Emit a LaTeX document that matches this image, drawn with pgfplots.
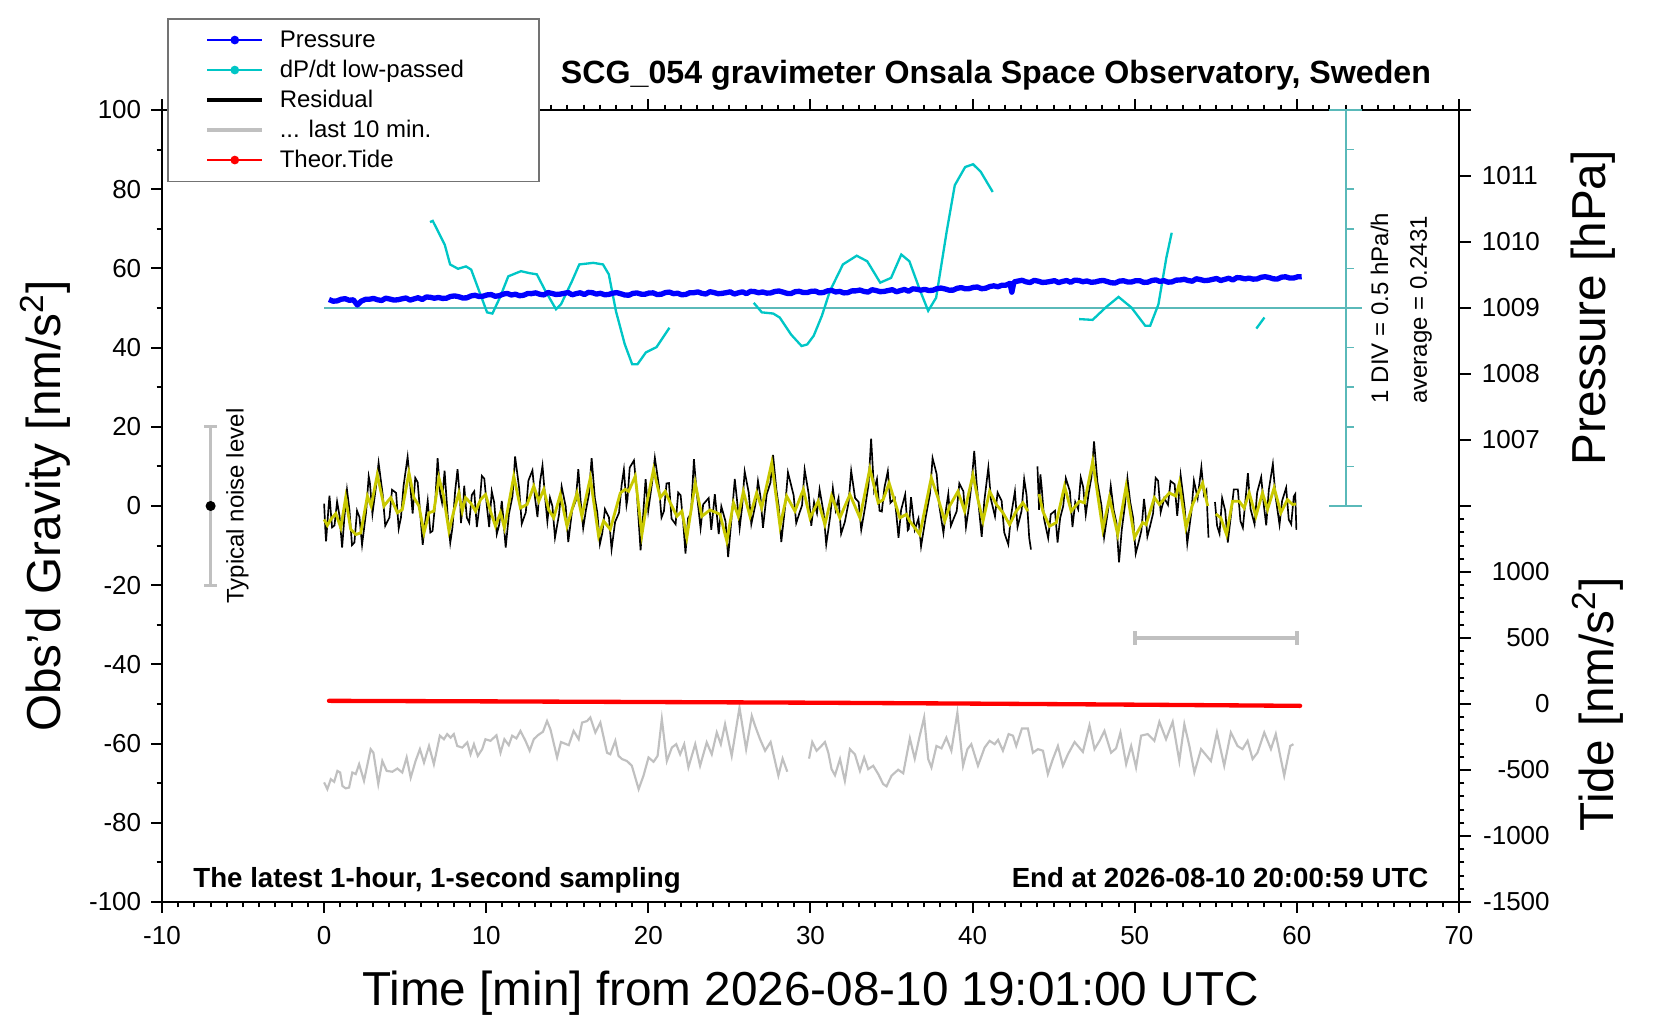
\documentclass[border=0pt]{standalone}
\usepackage{pgfplots}
\pgfplotsset{compat=1.18}
\usepackage{fontspec}
\setmainfont{Liberation Sans}

\definecolor{pblue}{RGB}{0,0,255}
\definecolor{dcyan}{RGB}{0,198,198}
\definecolor{acyan}{RGB}{90,185,185}
\definecolor{ylw}{RGB}{200,200,0}
\definecolor{lgray}{RGB}{192,192,192}

\newcommand\tickfont{\fontsize{7.8bp}{9bp}\selectfont}
\newcommand\legfont{\fontsize{7.2bp}{8.6bp}\selectfont}
\newcommand\labfont{\fontsize{14.3bp}{17bp}\selectfont}

\begin{document}
\begin{tikzpicture}
% ---------------- main gravity axis ----------------
\begin{axis}[
  at={(48.6bp,35.4bp)}, anchor=south west,
  scale only axis, width=389.1bp, height=237.6bp,
  xmin=-10, xmax=70, ymin=-100, ymax=100,
  clip=false,
  axis line style={line width=0.75pt},
  tick align=outside,
  xtick={-10,0,...,70}, xticklabels={-10,0,10,20,30,40,50,60,70},
  minor x tick num=9,
  ytick={-100,-80,...,100},
  yticklabels={-100,-80,-60,-40,-20,0,20,40,60,80,100},
  minor y tick num=1,
  xtick pos=both, xticklabel pos=bottom, ytick pos=left,
  major tick length=3.2bp, minor tick length=1.6bp,
  every tick/.style={black, line width=0.6pt},
  xticklabel style={font=\tickfont, inner sep=0pt, anchor=north, yshift=-3.8bp},
  yticklabel style={font=\tickfont, inner sep=0pt, anchor=east, xshift=-2.85bp},
  xlabel={Time [min] from 2026-08-10 19:01:00 UTC},
  ylabel={Obs’d Gravity [nm/s\textsuperscript{2}]},
  label style={font=\labfont, inner sep=0pt},
  xlabel style={at={(rel axis cs:0.5,-0.131)}, anchor=base},
  ylabel style={at={(rel axis cs:-0.078,0.5)}, anchor=base},
  legend image code/.code={\draw[mark repeat=2,mark phase=2,#1] plot coordinates {(0bp,0bp) (8.25bp,0bp) (16.5bp,0bp)};},
  legend cell align=left,
  legend style={at={(rel axis cs:0.0041,1.1163)}, anchor=north west,
    draw=black!55, line width=0.5pt, fill=white, font=\legfont,
    inner xsep=11.1bp, inner ysep=2.6bp, row sep=1.4bp, column sep=4.6bp,
    nodes={inner sep=0pt, text height=6bp, text depth=1.6bp}},
]
\addlegendimage{pblue, line width=0.4pt, mark=*, mark size=1.1pt}
\addlegendentry{Pressure}
\addlegendimage{dcyan, line width=0.4pt, mark=*, mark size=1.1pt}
\addlegendentry{dP/dt low-passed\hspace*{11.5bp}}
\addlegendimage{black, line width=1pt}
\addlegendentry{Residual}
\addlegendimage{lgray, line width=1.3pt}
\addlegendentry{... last 10 min.}
\addlegendimage{red, line width=0.4pt, mark=*, mark size=1.1pt}
\addlegendentry{Theor.Tide}

% dP/dt axis decorations
\draw[acyan, line width=0.6pt] (axis cs:0,50) -- (axis cs:64,50);
\draw[acyan, line width=0.6pt] (axis cs:63,0) -- (axis cs:63,100);
\draw[acyan, line width=0.6pt] (axis cs:62,0) -- (axis cs:64,0);
\draw[acyan, line width=0.6pt] (axis cs:62,100) -- (axis cs:64,100);
\pgfplotsinvokeforeach{10,20,30,40,60,70,80,90}{\draw[acyan, line width=0.5pt] (axis cs:63,#1) -- (axis cs:63.5,#1);}

% dP/dt low-passed
\addplot[dcyan, line width=0.7pt, forget plot] coordinates {(6.53,71.7)(6.7,72.0)(7.44,66)(7.77,61)(8.26,59.9)(8.75,60.5)(9.07,59.7)(9.56,54.3)(10.05,48.9)(10.38,48.6)(10.84,52.6)(11.36,58)(12.14,59.3)(12.67,58.8)(13.12,58.5)(13.65,54.3)(14.3,49.7)(14.62,51)(15.28,56.7)(15.74,61)(16.6,61.4)(17.2,61)(17.56,58.5)(18.0,49.2)(18.54,40.9)(19.0,35.8)(19.33,35.8)(19.85,38.8)(20.5,40.1)(21.3,45)};
\addplot[dcyan, line width=0.7pt, forget plot] coordinates {(26.5,51.3)(27.0,48.9)(27.7,48.6)(28.1,47.6)(28.8,43.3)(29.45,40.4)(29.8,40.8)(30.2,43)(30.7,48)(31.2,54.3)(32.0,61)(32.85,63.2)(33.5,61.8)(34.3,56.4)(34.97,57.6)(35.6,63.5)(36.1,61.8)(36.77,54.3)(37.26,49.3)(37.75,52.6)(38.4,69.3)(38.9,81)(39.54,85.6)(40.03,86.3)(40.5,84.4)(41.24,79.3)};
\addplot[dcyan, line width=0.7pt, forget plot] coordinates {(46.57,47.2)(47.4,47)(48.2,50.1)(49.0,52.8)(49.8,50.1)(50.65,45.5)(50.95,45.5)(51.46,50.9)(51.95,62.7)(52.28,69)};
\addplot[dcyan, line width=0.7pt, forget plot] coordinates {(57.5,44.8)(58.0,47.6)};

% Residual (black)
\addplot[black, line width=0.5pt, forget plot] coordinates {(0.0,0.6)(0.08,-6.4)(0.12,-8.9)(0.28,0.1)(0.33,2.6)(0.49,-5.4)(0.64,-4.9)(0.8,1.1)(0.95,-2.5)(1.11,-10.5)(1.25,-2.9)(1.41,4.1)(1.56,-0.9)(1.72,-9.9)(1.87,-9.2)(2.03,-1.2)(2.18,-2.8)(2.34,-9.8)(2.59,-1.5)(2.75,7.5)(2.82,6)(2.98,-2)(3.2,4.9)(3.36,10.9)(3.61,3)(3.77,-5)(4.03,-2.9)(4.19,4.1)(4.44,3.3)(4.6,-5.7)(4.74,-2.9)(4.9,5.1)(5.15,12.4)(5.31,5.4)(5.46,-1.9)(5.62,7.1)(5.77,6)(5.93,-2)(6.08,-9.8)(6.24,-3.8)(6.39,1.3)(6.55,-6.7)(6.69,-6.3)(6.85,0.7)(7.0,12.1)(7.16,3.1)(7.27,0.9)(7.43,8.9)(7.62,-2.3)(7.78,-9.3)(7.92,-5.3)(8.08,3.7)(8.23,9.3)(8.39,1.3)(8.44,-4.3)(8.6,1.7)(8.64,5.1)(8.8,-2.9)(8.95,-4.2)(9.11,2.8)(9.26,3.7)(9.42,-5.3)(9.57,-0.4)(9.73,7.6)(9.88,6.9)(10.04,-0.1)(10.18,-5.3)(10.34,3.7)(10.49,0.9)(10.65,-7.1)(10.8,-4.7)(10.96,1.3)(11.04,-2.5)(11.2,-10.5)(11.4,-2)(11.62,2.5)(11.78,12.5)(12.03,4.5)(12.19,-4.5)(12.44,-1.6)(12.6,6.4)(12.85,9.0)(13.01,2.0)(13.16,-2.8)(13.32,6.2)(13.47,10.2)(13.63,2.2)(13.77,-3.9)(13.93,2.1)(14.08,0)(14.24,-8.0)(14.49,-2.1)(14.65,4.9)(14.9,-0.1)(15.06,-9.1)(15.3,-1)(15.52,1.3)(15.68,9.3)(15.82,1.4)(15.98,-5.6)(16.15,-1)(16.34,3.1)(16.5,12.1)(16.7,2)(16.85,-1.6)(17.01,-9.6)(17.16,-6.8)(17.32,-0.8)(17.57,-2.9)(17.73,-10.9)(17.95,-4)(18.19,-1.7)(18.35,5.3)(18.49,9.2)(18.65,0.2)(18.71,1.7)(18.85,9.7)(19.11,11.5)(19.27,4.5)(19.52,-11.2)(19.68,-2.2)(19.83,6.8)(19.99,-1.2)(20.24,6.2)(20.4,12.2)(20.65,5.1)(20.81,-2.9)(20.96,-1.3)(21.12,5.7)(21.27,5.8)(21.43,-3.2)(21.68,-4.6)(21.84,3.4)(21.99,2.7)(22.15,-4.3)(22.29,-12.0)(22.45,-3.0)(22.63,-2)(22.81,11.8)(22.97,3.8)(23.22,-5.6)(23.38,0.4)(23.72,2.0)(23.88,-6.0)(24.1,3)(24.34,-7.1)(24.5,-0.1)(24.76,-3.9)(24.92,-12.9)(25.17,-1.2)(25.33,6.8)(25.47,1.4)(25.63,-5.6)(25.78,-0.3)(25.94,8.7)(26.19,3.4)(26.35,-4.6)(26.6,0.3)(26.76,6.3)(26.91,2.5)(27.07,-5.5)(27.3,3)(27.53,5.9)(27.69,12.9)(27.9,4)(28.04,-0.1)(28.2,-9.1)(28.45,0.5)(28.61,8.5)(28.96,2.7)(29.12,-4.3)(29.3,-2)(29.48,0.2)(29.64,9.2)(29.89,3.0)(30.05,-5.0)(30.22,1)(30.4,-1.8)(30.56,4.2)(30.81,-1.7)(30.97,-9.7)(31.22,-2.5)(31.38,4.5)(31.55,-1)(31.73,2.0)(31.89,-7.0)(32.12,-4)(32.35,0.9)(32.51,8.9)(32.75,2)(32.97,1.0)(33.13,-6.0)(33.38,0)(33.58,5.4)(33.74,17.0)(33.92,4)(34.1,6.8)(34.26,-1.2)(34.4,-1.4)(34.56,4.6)(34.77,8.8)(34.93,0.8)(35.2,2)(35.43,-8.0)(35.59,-1.0)(35.84,2.9)(36.0,-6.1)(36.06,-5.8)(36.2,2.2)(36.43,-6)(36.66,-3.2)(36.82,-10.2)(37.1,-3)(37.37,3.1)(37.53,12.1)(37.78,8.1)(37.94,0.1)(38.2,-6.8)(38.36,-0.8)(38.5,3)(38.66,-5)(38.85,-3)(39.02,-1.3)(39.18,5.7)(39.43,3.7)(39.59,-5.3)(39.78,0)(39.94,5.9)(40.1,13.9)(40.25,5.6)(40.41,-1.4)(40.56,-7.8)(40.72,1.2)(40.97,9.7)(41.13,1.7)(41.38,-2.6)(41.54,3.4)(41.79,1.3)(41.95,-6.7)(42.2,-9.7)(42.36,-2.7)(42.61,3.7)(42.77,-5.3)(43.02,-1.2)(43.18,6.8)(43.33,2.7)(43.49,-8)(43.6,-11)};
\addplot[black, line width=0.5pt, forget plot] coordinates {(44.0,10)(44.1,-1)(44.18,8.0)(44.26,4.7)(44.41,-3.3)(44.66,-8.1)(44.82,-2.1)(45.08,-1.2)(45.24,-9.2)(45.4,-3)(45.59,0)(45.75,7.0)(46.0,3.7)(46.16,-5.3)(46.33,1)(46.51,-0.8)(46.67,7.2)(46.82,4.8)(46.98,-2.2)(47.15,3)(47.33,7.3)(47.49,16.3)(47.7,6)(47.95,0.1)(48.11,-7.9)(48.36,-0.9)(48.52,5.1)(48.7,-1)(48.87,-4.2)(49.03,-14.2)(49.2,-6)(49.39,0)(49.55,7.0)(49.72,1)(49.9,-3.0)(50.06,-12.0)(50.25,-9)(50.41,-6.2)(50.57,1.8)(50.64,-0.7)(50.78,-7.7)(50.95,-5)(51.13,-1.9)(51.29,7.1)(51.44,6.4)(51.6,-1.6)(51.82,2)(52.05,0.3)(52.21,6.3)(52.46,5.5)(52.62,-2.5)(52.69,0.8)(52.83,7.8)(53.08,-0.5)(53.24,-9.5)(53.49,-1.6)(53.65,6.4)(53.88,2)(54.11,9.8)(54.27,2.8)(54.42,4)(54.55,-8)};
\addplot[black, line width=0.5pt, forget plot] coordinates {(54.95,1)(55.08,-5)(55.23,-7.0)(55.39,2.0)(55.58,-1.2)(55.74,-9.2)(55.95,-1.8)(56.11,4.2)(56.36,4.2)(56.52,-3.8)(56.67,-5.5)(56.83,1.5)(56.98,8.3)(57.14,-0.7)(57.39,-4.6)(57.55,3.4)(57.8,7.3)(57.96,0.3)(58.11,-4.9)(58.27,4.1)(58.52,10.6)(58.68,2.6)(58.93,-4.7)(59.09,1.3)(59.34,4.6)(59.5,-3.4)(59.65,-4.6)(59.81,2.4)(59.9,3)(59.97,-6)};

% Residual smoothed (yellow)
\addplot[ylw, line width=0.85pt, forget plot] coordinates {(0,-3.4)(0.2,-4.9)(0.41,-3.4)(0.72,-1.9)(1.03,-5.5)(1.33,2.1)(1.64,-5.9)(1.95,-7.2)(2.26,-6.8)(2.67,2.5)(2.9,0)(3.28,7.9)(3.69,0)(4.11,2.1)(4.52,-1.7)(4.82,-0.9)(5.23,8.4)(5.54,2.1)(5.85,0)(6.16,-6.8)(6.47,-1.7)(6.77,-1.3)(7.08,7.1)(7.35,2.9)(7.7,-6.3)(8.0,-1.3)(8.31,3.3)(8.52,-1.3)(8.72,2.1)(9.03,0.8)(9.34,-1.3)(9.65,1.6)(9.96,2.9)(10.26,-1.3)(10.57,-5.1)(10.88,-1.7)(11.12,-5.5)(11.7,7.5)(12.11,-0.5)(12.52,0.4)(12.93,5.0)(13.24,1.2)(13.55,4.2)(13.85,-0.9)(14.16,-3.0)(14.57,2.9)(14.98,-5.1)(15.6,3.3)(15.9,-2.6)(16.42,7.1)(16.93,-7.6)(17.24,-3.8)(17.65,-5.9)(18.27,3.3)(18.57,4.2)(18.78,3.7)(19.19,7.5)(19.6,-7.2)(19.91,0.8)(20.32,9.2)(20.73,2.1)(21.04,3.7)(21.35,0.8)(21.76,-2.6)(22.07,-1.3)(22.37,-8.0)(22.89,5.8)(23.3,-2.6)(23.8,-1.0)(24.42,-2.1)(24.84,-8.9)(25.25,0.8)(25.55,-2.6)(25.86,3.7)(26.27,-2.6)(26.68,3.3)(26.99,-0.5)(27.61,10.9)(28.12,-5.1)(28.53,2.5)(29.04,-1.3)(29.56,4.2)(29.97,-3.0)(30.48,1.2)(30.89,-4.7)(31.3,2.5)(31.81,-3.0)(32.43,2.9)(33.05,-3.0)(33.66,9.4)(34.18,0.8)(34.48,1.6)(34.85,5.8)(35.51,-3.0)(35.92,-2.1)(36.12,-3.8)(36.74,-7.2)(37.45,7.1)(37.86,2.1)(38.28,-3.8)(38.58,0)(39.1,3.7)(39.51,-1.3)(40.02,7.9)(40.33,1.6)(40.64,-3.8)(41.05,3.7)(41.46,0.4)(41.87,-1.7)(42.28,-4.7)(42.69,-1.3)(43.1,0.8)(43.41,-1.3)};
\addplot[ylw, line width=0.85pt, forget plot] coordinates {(44.1,3.0)(44.33,-1.3)(44.74,-5.1)(45.16,-4.2)(45.67,5.0)(46.08,-1.3)(46.59,1.2)(46.9,0.8)(47.41,11.3)(48.03,-5.9)(48.44,2.1)(48.95,-7.2)(49.47,5.0)(49.98,-8.0)(50.49,-4.2)(50.7,-4.7)(51.21,2.1)(51.52,0.4)(52.13,3.3)(52.54,2.5)(52.75,5.8)(53.16,-5.5)(53.57,0.4)(54.19,5.8)(54.5,0)};
\addplot[ylw, line width=0.85pt, forget plot] coordinates {(55.0,-2.0)(55.31,-3.0)(55.66,-7.2)(56.03,1.2)(56.44,1.2)(56.75,-0.5)(57.06,3.3)(57.47,-2.6)(57.88,3.3)(58.19,-0.9)(58.6,4.6)(59.01,-1.7)(59.42,1.6)(59.73,0.4)(59.95,0.5)};

% last 10 min (gray)
\addplot[lgray, line width=0.65pt, forget plot] coordinates {(0.0,-69.8)(0.2,-71.5)(0.41,-69.0)(0.62,-69.65)(0.82,-66.9)(0.99,-67.3)(1.13,-70.7)(1.33,-71.3)(1.54,-71.1)(1.74,-67.3)(1.95,-67.7)(2.16,-65.2)(2.46,-69.4)(2.87,-61.4)(3.04,-62.3)(3.34,-70.2)(3.59,-64.4)(3.86,-66.9)(4.21,-67.1)(4.52,-66.3)(4.82,-67.3)(5.09,-63.5)(5.34,-68.6)(5.64,-64.4)(5.91,-61.4)(6.16,-64.8)(6.47,-60.6)(6.77,-65.2)(7.14,-58.0)(7.39,-58.9)(7.59,-57.6)(7.8,-58.5)(8.0,-57.6)(8.21,-60.6)(8.52,-61.0)(8.83,-59.7)(9.03,-62.7)(9.24,-60.15)(9.48,-63.1)(9.75,-61.4)(9.95,-58.9)(10.26,-59.3)(10.63,-57.9)(10.88,-62.3)(11.12,-58.9)(11.39,-60.4)(11.6,-58.0)(11.86,-58.7)(12.11,-56.8)(12.42,-59.3)(12.68,-61.8)(12.93,-58.9)(13.18,-57.9)(13.5,-57.0)(13.75,-54.3)(13.96,-56.4)(14.37,-63.5)(14.61,-59.6)(15.09,-60.4)(15.39,-56.8)(15.7,-58.9)(15.91,-54.7)(16.22,-54.3)(16.42,-53.4)(16.73,-57.2)(17.04,-54.7)(17.45,-62.3)(17.65,-62.7)(17.96,-59.3)(18.16,-63.1)(18.37,-63.9)(18.68,-64.4)(18.98,-65.6)(19.4,-71.5)(19.7,-68.1)(20.01,-63.5)(20.32,-64.6)(20.57,-63.1)(20.83,-53.8)(21.14,-64.4)(21.45,-61.0)(21.72,-60.15)(21.96,-62.7)(22.21,-60.15)(22.47,-66.0)(22.89,-60.15)(23.19,-65.6)(23.6,-59.7)(23.91,-62.7)(24.22,-57.2)(24.47,-60.15)(24.73,-55.1)(25.14,-63.1)(25.62,-50.9)(26.03,-61.4)(26.38,-53.0)(26.58,-55.5)(26.89,-58.9)(27.2,-61.8)(27.54,-59.6)(28.02,-68.1)(28.28,-63.8)(28.57,-67.1)};
\addplot[lgray, line width=0.65pt, forget plot] coordinates {(29.91,-63.8)(30.11,-59.6)(30.38,-61.8)(30.58,-61.0)(30.89,-59.6)(31.1,-62.3)(31.3,-66.45)(31.51,-68.0)(31.82,-63.9)(32.12,-69.4)(32.43,-61.4)(32.74,-62.7)(33.05,-66.9)(33.31,-63.5)(33.56,-66.45)(33.87,-65.6)(34.18,-67.7)(34.48,-70.2)(34.69,-70.8)(35.0,-68.1)(35.41,-66.6)(35.72,-67.5)(36.13,-58.7)(36.43,-63.8)(36.74,-58.0)(37.01,-53.4)(37.26,-63.9)(37.46,-66.0)(37.77,-60.6)(38.08,-61.2)(38.38,-58.5)(38.69,-61.8)(39.06,-52.2)(39.41,-65.6)(39.68,-61.4)(39.92,-60.15)(40.33,-65.6)(40.74,-61.0)(41.05,-59.3)(41.36,-60.15)(41.57,-59.06)(41.87,-61.8)(42.22,-57.6)(42.49,-58.0)(42.69,-60.6)(43.04,-56.2)(43.41,-56.2)(43.72,-62.3)(44.03,-61.4)(44.34,-61.8)(44.64,-67.7)(44.95,-63.9)(45.26,-60.6)(45.57,-65.6)(45.88,-62.7)(46.29,-59.6)(46.8,-62.1)(47.21,-55.4)(47.52,-61.4)(47.83,-59.3)(48.13,-56.8)(48.54,-62.3)(48.85,-61.2)(49.12,-57.2)(49.47,-65.2)(49.78,-60.6)(50.08,-66.0)(50.39,-58.0)(50.8,-57.6)(51.21,-59.3)(51.52,-54.5)(51.93,-58.9)(52.34,-54.5)(52.75,-64.4)(53.06,-55.1)(53.37,-60.6)(53.68,-67.3)(54.09,-61.4)(54.7,-64.4)(55.07,-57.2)(55.52,-65.6)(55.93,-57.2)(56.34,-60.6)(56.65,-61.4)(56.96,-59.3)(57.27,-63.9)(57.57,-62.3)(57.99,-57.2)(58.4,-61.4)(58.7,-57.6)(59.22,-68.1)(59.59,-60.6)(59.79,-60.15)};

% typical noise level
\draw[lgray, line width=0.8pt] (axis cs:-7,-20) -- (axis cs:-7,20);
\draw[lgray, line width=0.8pt] (axis cs:-7.4,-20) -- (axis cs:-6.6,-20);
\draw[lgray, line width=0.8pt] (axis cs:-7.4,20) -- (axis cs:-6.6,20);
\addplot[black, only marks, mark=*, mark size=1.3pt, forget plot] coordinates {(-7,0)};
\node[font=\legfont, rotate=90, inner sep=0pt] at (axis cs:-5.35,0) {Typical noise level};

\node[font=\legfont, rotate=90, inner sep=0pt] at (axis cs:65.1,50) {1 DIV = 0.5 hPa/h};
\node[font=\legfont, rotate=90, inner sep=0pt] at (axis cs:67.65,49.5) {average = 0.2431};

\node[font=\bfseries\fontsize{9.65bp}{11bp}\selectfont, anchor=base east, inner sep=0pt] at (rel axis cs:0.979,1.033) {SCG\_054 gravimeter Onsala Space Observatory, Sweden};
\node[font=\bfseries\fontsize{8.3bp}{10bp}\selectfont, anchor=base west, inner sep=0pt] at (rel axis cs:0.0237,0.0178) {The latest 1-hour, 1-second sampling};
\node[font=\bfseries\fontsize{8.3bp}{10bp}\selectfont, anchor=base east, inner sep=0pt] at (rel axis cs:0.977,0.0178) {End at 2026-08-10 20:00:59 UTC};
\end{axis}

% ---------------- pressure axis (upper right) ----------------
\begin{axis}[
  at={(48.6bp,154.2bp)}, anchor=south west,
  scale only axis, width=389.1bp, height=118.8bp,
  xmin=-10, xmax=70, ymin=1006, ymax=1012,
  axis x line=none, axis y line*=right,
  axis line style={line width=0.75pt},
  tick align=outside,
  ytick={1006,1007,...,1012}, yticklabels={,1007,1008,1009,1010,1011,},
  minor y tick num=4,
  major tick length=3.5bp, minor tick length=1.6bp,
  every tick/.style={black, line width=0.6pt},
  yticklabel style={font=\tickfont, inner sep=0pt, anchor=west, xshift=3.2bp},
  ylabel={Pressure [hPa]},
  ylabel style={font=\labfont, inner sep=0pt, at={(rel axis cs:1.1131,0.5)}, anchor=base},
]
\addplot[pblue, line width=1.6pt, line join=round] coordinates {(0.3,1009.129)(0.55,1009.103)(0.8,1009.108)(1.05,1009.133)(1.3,1009.141)(1.55,1009.117)(1.8,1009.124)(2.05,1009.045)(2.3,1009.105)(2.55,1009.131)(2.8,1009.133)(3.05,1009.145)(3.3,1009.124)(3.55,1009.114)(3.8,1009.149)(4.05,1009.136)(4.3,1009.120)(4.55,1009.125)(4.8,1009.139)(5.05,1009.152)(5.3,1009.120)(5.55,1009.138)(5.8,1009.156)(6.05,1009.129)(6.3,1009.167)(6.55,1009.162)(6.8,1009.148)(7.05,1009.160)(7.3,1009.145)(7.55,1009.149)(7.8,1009.175)(8.05,1009.183)(8.3,1009.171)(8.55,1009.152)(8.8,1009.154)(9.05,1009.182)(9.3,1009.193)(9.55,1009.175)(9.8,1009.179)(10.05,1009.198)(10.3,1009.204)(10.55,1009.178)(10.8,1009.186)(11.05,1009.211)(11.3,1009.221)(11.55,1009.197)(11.8,1009.209)(12.05,1009.186)(12.3,1009.193)(12.55,1009.219)(12.8,1009.218)(13.05,1009.230)(13.3,1009.208)(13.55,1009.198)(13.8,1009.234)(14.05,1009.221)(14.3,1009.205)(14.55,1009.210)(14.8,1009.222)(15.05,1009.235)(15.3,1009.200)(15.55,1009.218)(15.8,1009.231)(16.05,1009.204)(16.3,1009.237)(16.55,1009.232)(16.8,1009.211)(17.05,1009.223)(17.3,1009.201)(17.55,1009.205)(17.8,1009.225)(18.05,1009.233)(18.3,1009.216)(18.55,1009.197)(18.8,1009.194)(19.05,1009.222)(19.3,1009.228)(19.55,1009.210)(19.8,1009.209)(20.05,1009.228)(20.3,1009.229)(20.55,1009.203)(20.8,1009.209)(21.05,1009.234)(21.3,1009.241)(21.55,1009.217)(21.8,1009.224)(22.05,1009.201)(22.3,1009.205)(22.55,1009.231)(22.8,1009.232)(23.05,1009.244)(23.3,1009.222)(23.55,1009.212)(23.8,1009.247)(24.05,1009.234)(24.3,1009.217)(24.55,1009.222)(24.8,1009.232)(25.05,1009.245)(25.3,1009.212)(25.55,1009.230)(25.8,1009.245)(26.05,1009.218)(26.3,1009.253)(26.55,1009.248)(26.8,1009.231)(27.05,1009.243)(27.3,1009.225)(27.55,1009.229)(27.8,1009.250)(28.05,1009.258)(28.3,1009.241)(28.55,1009.222)(28.8,1009.219)(29.05,1009.247)(29.3,1009.253)(29.55,1009.235)(29.8,1009.234)(30.05,1009.253)(30.3,1009.256)(30.55,1009.230)(30.8,1009.235)(31.05,1009.260)(31.3,1009.267)(31.55,1009.243)(31.8,1009.252)(32.05,1009.229)(32.3,1009.233)(32.55,1009.259)(32.8,1009.260)(33.05,1009.272)(33.3,1009.251)(33.55,1009.241)(33.8,1009.277)(34.05,1009.264)(34.3,1009.247)(34.55,1009.252)(34.8,1009.265)(35.05,1009.278)(35.3,1009.246)(35.55,1009.264)(35.8,1009.281)(36.05,1009.254)(36.3,1009.290)(36.55,1009.285)(36.8,1009.270)(37.05,1009.282)(37.3,1009.265)(37.55,1009.269)(37.8,1009.294)(38.05,1009.302)(38.3,1009.289)(38.55,1009.270)(38.8,1009.271)(39.05,1009.299)(39.3,1009.309)(39.55,1009.291)(39.8,1009.294)(40.05,1009.313)(40.3,1009.318)(40.55,1009.292)(40.8,1009.299)(41.05,1009.324)(41.3,1009.336)(41.55,1009.322)(41.8,1009.344)(42.05,1009.346)(42.3,1009.373)(42.42,1009.24)(42.55,1009.395)(42.8,1009.408)(43.05,1009.420)(43.3,1009.396)(43.55,1009.386)(43.8,1009.419)(44.05,1009.406)(44.3,1009.387)(44.55,1009.392)(44.8,1009.402)(45.05,1009.415)(45.3,1009.385)(45.55,1009.403)(45.8,1009.416)(46.05,1009.389)(46.3,1009.422)(46.55,1009.417)(46.8,1009.398)(47.05,1009.410)(47.3,1009.390)(47.55,1009.394)(47.8,1009.410)(48.05,1009.418)(48.3,1009.401)(48.55,1009.382)(48.8,1009.379)(49.05,1009.407)(49.3,1009.413)(49.55,1009.395)(49.8,1009.394)(50.05,1009.413)(50.3,1009.414)(50.55,1009.388)(50.8,1009.391)(51.05,1009.416)(51.3,1009.426)(51.55,1009.402)(51.8,1009.414)(52.05,1009.391)(52.3,1009.396)(52.55,1009.422)(52.8,1009.424)(53.05,1009.436)(53.3,1009.416)(53.55,1009.406)(53.8,1009.443)(54.05,1009.430)(54.3,1009.415)(54.55,1009.420)(54.8,1009.434)(55.05,1009.447)(55.3,1009.416)(55.55,1009.434)(55.8,1009.451)(56.05,1009.424)(56.3,1009.461)(56.55,1009.456)(56.8,1009.441)(57.05,1009.453)(57.3,1009.437)(57.55,1009.441)(57.8,1009.466)(58.05,1009.474)(58.3,1009.461)(58.55,1009.442)(58.8,1009.439)(59.05,1009.467)(59.3,1009.473)(59.55,1009.455)(59.8,1009.454)(60.05,1009.473)(60.3,1009.474)};
\end{axis}

% ---------------- tide axis (lower right) ----------------
\begin{axis}[
  at={(48.6bp,35.4bp)}, anchor=south west,
  scale only axis, width=389.1bp, height=118.8bp,
  xmin=-10, xmax=70, ymin=-1500, ymax=1500,
  axis x line=none, axis y line*=right,
  axis line style={line width=0.75pt},
  tick align=outside,
  ytick={-1500,-1000,...,1500}, yticklabels={-1500,-1000,-500,0,500,1000,},
  minor y tick num=4,
  major tick length=3.5bp, minor tick length=1.6bp,
  every tick/.style={black, line width=0.6pt},
  yticklabel style={font=\tickfont, inner sep=0pt, anchor=east, xshift=23.9bp},
  ylabel={Tide [nm/s\textsuperscript{2}]},
  ylabel style={font=\labfont, inner sep=0pt, at={(rel axis cs:1.119,0.5)}, anchor=base},
]
\addplot[red, line width=1.3pt, line cap=round] coordinates {(0.3,24)(10,20)(20,15)(30,10)(40,3)(50,-5)(60.2,-14)};
\addplot[lgray, line width=1.3pt] coordinates {(50,500)(60,500)};
\addplot[lgray, line width=1.3pt] coordinates {(50,450)(50,550)};
\addplot[lgray, line width=1.3pt] coordinates {(60,450)(60,550)};
\end{axis}

\pgfresetboundingbox
\path[use as bounding box] (0,0) rectangle (498bp,306bp);
\end{tikzpicture}
\end{document}
